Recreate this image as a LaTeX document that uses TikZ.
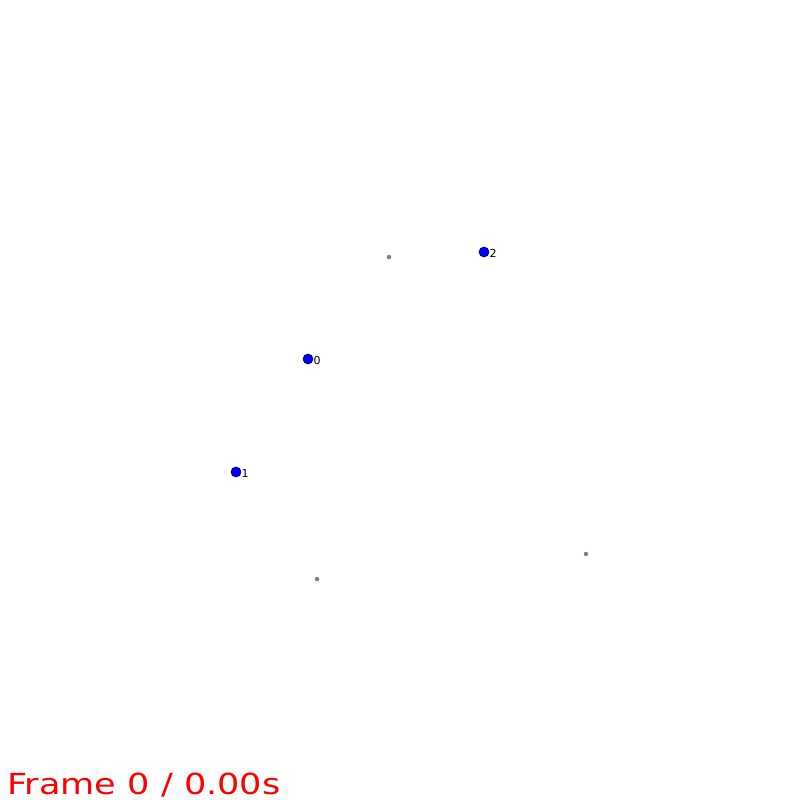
\documentclass[tikz,border=0pt]{standalone}
\usepackage{fontspec}
\setmainfont{DejaVu Sans}
\usepackage{graphicx}
\begin{document}
\begin{tikzpicture}[x=1pt,y=-1pt,
  body/.style={circle,fill=blue,draw=black!70!blue,line width=0.6pt,inner sep=0pt,minimum size=10pt},
  lbl/.style={anchor=west,inner sep=0pt,font=\fontsize{11}{11}\selectfont,text=black},
  ghost/.style={circle,fill=gray,inner sep=0pt,minimum size=4.5pt}]
\useasboundingbox[fill=white] (0,0) rectangle (800,800);
\node[body] (n0) at (308,359) {};
\node[lbl] (l0) at (313.5,360.5) {0};
\node[body] (n1) at (236,472) {};
\node[lbl] (l1) at (241.5,473.5) {1};
\node[body] (n2) at (484,252) {};
\node[lbl] (l2) at (489.5,253.5) {2};
\node[ghost] (g0) at (389,257) {};
\node[ghost] (g1) at (586,554) {};
\node[ghost] (g2) at (317,579) {};
\node[anchor=base west,inner sep=0pt,text=red] (title) at (7,794)
  {\scalebox{1.21}[1]{\fontsize{29}{29}\selectfont Frame 0 / 0.00s}};
\end{tikzpicture}
\end{document}
